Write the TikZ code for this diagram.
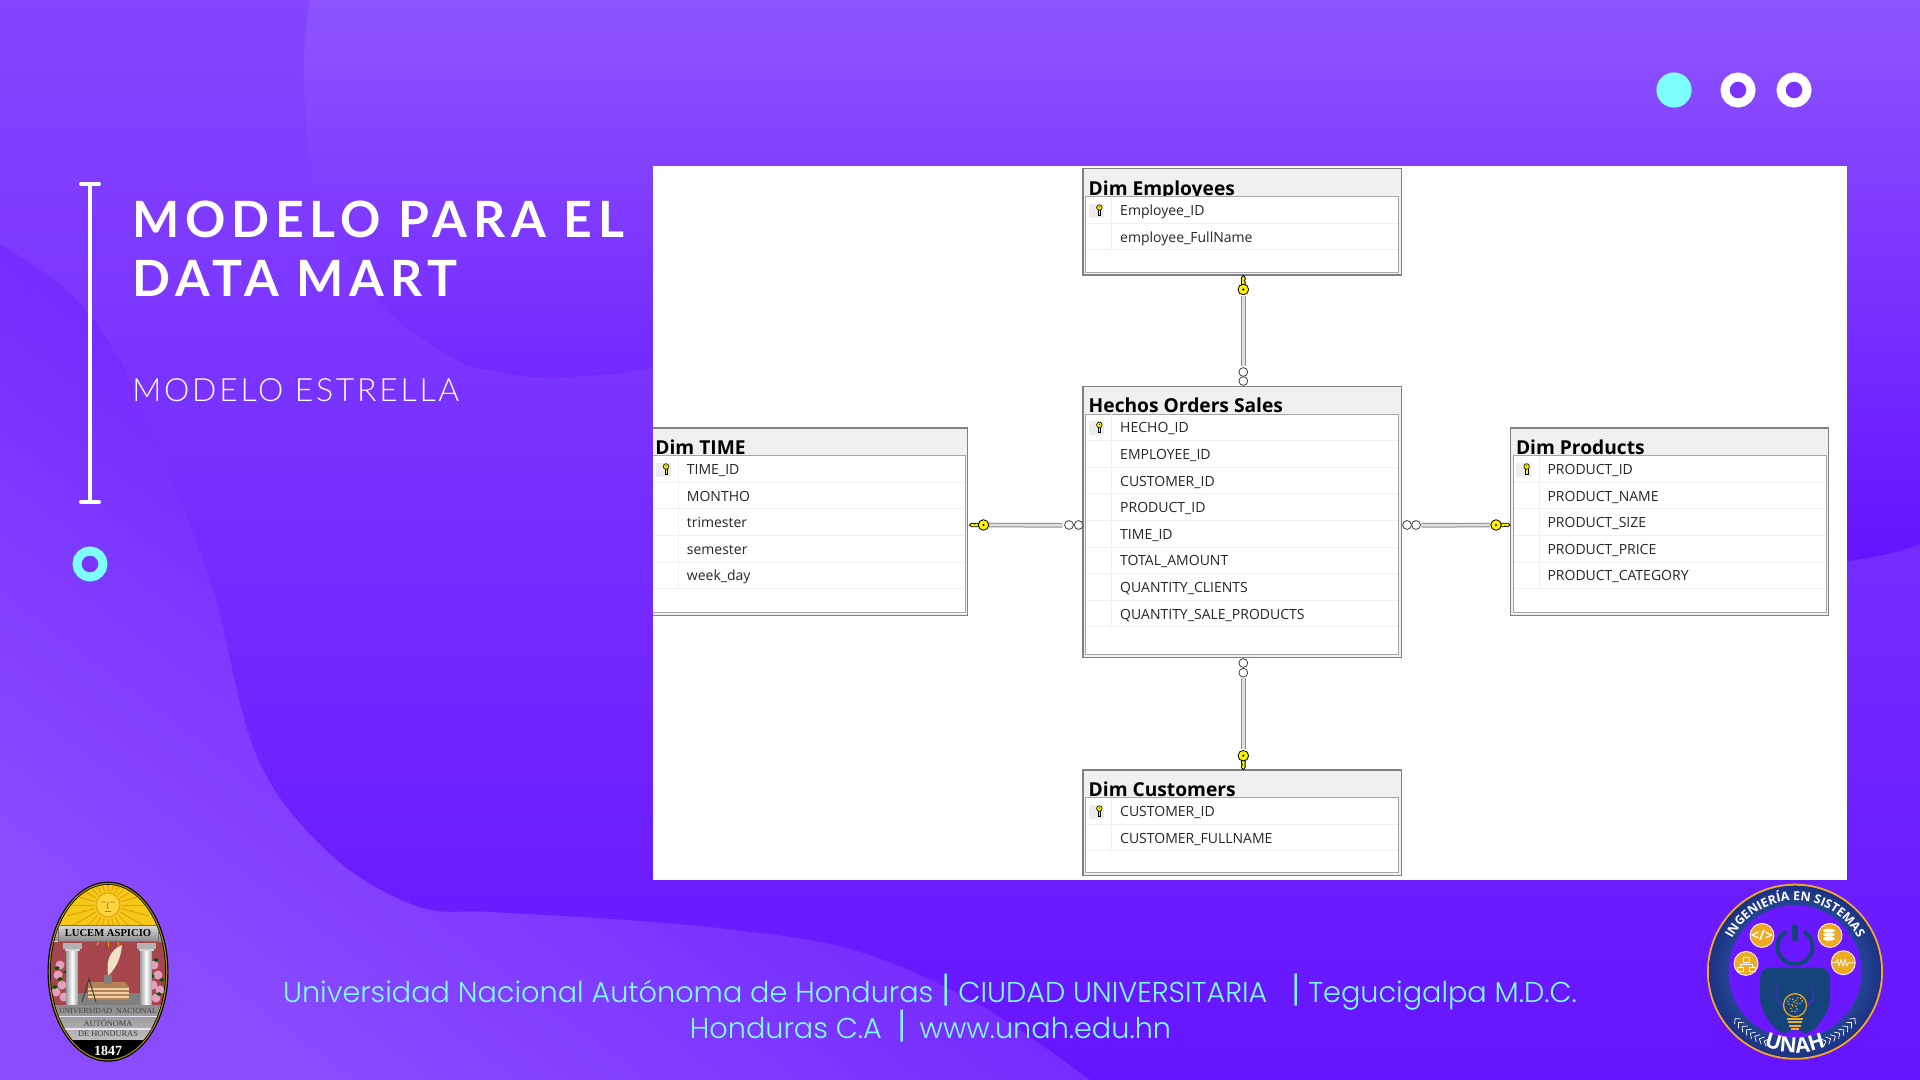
\documentclass[tikz,border=0pt]{standalone}
\usepackage{fontspec}
\usetikzlibrary{decorations.text}
\newfontfamily\titlefont[LetterSpace=11.5]{Lato}
\newfontfamily\subfont[LetterSpace=8.5]{Lato Light}
\newfontfamily\footfont{Poppins Light}
\newfontfamily\tablefont{Open Sans}
\newfontfamily\sealfont{Liberation Serif}
\definecolor{markcyan}{HTML}{7DFFFF}
\definecolor{navyman}{HTML}{14447A}
\definecolor{badgegold}{HTML}{EEAA22}
\definecolor{bgviolet}{HTML}{6A18FF}
\definecolor{baseTop}{HTML}{8445FF}
\definecolor{baseLow}{HTML}{6614FF}
\definecolor{blobTop}{HTML}{8E54FF}
\definecolor{blobMid}{HTML}{7B34FF}
\definecolor{blobLow}{HTML}{6410FF}
\definecolor{waveDark}{HTML}{620CFF}
\definecolor{waveLight}{HTML}{8A4CFF}
\definecolor{sealRed}{HTML}{A5464D}
\definecolor{sealSky}{HTML}{F6C818}
\definecolor{sealRay}{HTML}{E4A00F}
\definecolor{sealSun}{HTML}{FAD63C}
\definecolor{sealFace}{HTML}{B4780F}
\definecolor{sealPink}{HTML}{E1A0BE}
\definecolor{sealBook}{HTML}{B48255}
\definecolor{sealPage}{HTML}{EED2A5}
\definecolor{sealFeather}{HTML}{F0E1C3}
\definecolor{sealBand}{HTML}{EBE1F5}
\definecolor{sealGold}{HTML}{A08A10}
\definecolor{ringLight}{HTML}{3C87CD}
\definecolor{ringDark}{HTML}{1C3282}
\tikzset{
	tablebox/.style={draw=black!50,fill=black!6,line width=.6pt,anchor=north west,inner sep=0pt,minimum width=159.1pt},
	tabletitle/.style={anchor=base west,inner sep=0pt,font=\tablefont\bfseries\fontsize{9.6}{12}\selectfont},
	rowtext/.style={anchor=base west,inner sep=0pt,text=black!85,font=\tablefont\fontsize{7}{9}\selectfont},
	reljoin/.style={draw=black!45,double=black!12,line width=.5pt,double distance=1.35pt,shorten <=10pt,shorten >=10pt},
	ringmark/.style={circle,draw=black!75,fill=white,line width=.4pt,inner sep=0pt,minimum size=4.4pt},
	fulldot/.style={circle,fill=markcyan,inner sep=0pt,minimum size=17.6pt},
	holedot/.style={circle,draw=white,fill=blobMid,line width=4.5pt,inner sep=0pt,minimum size=13pt},
	badgedot/.style={circle,draw=white,fill=badgegold,line width=.4pt,inner sep=0pt,minimum size=12pt},
	sealtext/.style={inner sep=0pt,text=black!75,font=\sealfont\fontsize{4.2}{5}\selectfont},
	foottext/.style={anchor=base,inner sep=0pt,text=markcyan,font=\footfont\fontsize{14.35}{18}\selectfont},
	bigkey/.pic={
		\draw[black,fill=yellow,line width=.4pt] (4,-1.8) -- (12,-1.8) -- (14,0) -- (12,1.8) -- (10,1.8) -- (9,.9) -- (8,1.8) -- (4,1.8) -- cycle;
		\draw[black,fill=yellow,line width=.4pt] (0,0) circle (5.3);
		\fill[black] (0,0) circle (1.2);
	},
	smallkey/.pic={
		\draw[black,fill=yellow,line width=.3pt] (-1.2,0) rectangle (1.2,6);
		\draw[black,fill=yellow,line width=.3pt] (0,-1.5) circle (2.8);
		\fill[black] (0,-2) circle (.6);
	},
}
\newcommand{\footbar}{{\fontsize{18}{18}\selectfont|}}
% name, left, top, height, title, rows
\newcommand{\dbtable}[6]{
	\node[tablebox,minimum height=#4*.5pt-.6pt] (#1) at (#2,#3) {};
	\node[tabletitle] (#1-title) at (#2+6,#3+26.8) {#5};
	\draw[black!35,fill=white,line width=.5pt] (#2+3.4,#3+28.4) rectangle (#2+316.4,#3+#4-3.3);
	\foreach \r [count=\i] in {#6} {
		\pgfmathsetmacro{\rowtop}{#3+28.4+(\i-1)*26.6}
		\draw[black!6,line width=.5pt] (#2+3.9,\rowtop+26.6) -- (#2+315.9,\rowtop+26.6);
		\draw[black!6,line width=.5pt] (#2+29.4,\rowtop) -- (#2+29.4,\rowtop+26.6);
		\node[rowtext] (#1-row\i) at (#2+37.5,\rowtop+18.8) {\r};
	}
	\fill[black!7] (#2+6.7,#3+35.7) rectangle (#2+21.7,#3+49.7);
	\pic at (#2+17,#3+40.7) {smallkey};
}
\begin{document}
\begin{tikzpicture}[x=.5pt,y=-.5pt]
	\useasboundingbox (0,0) rectangle (1920,1080);
	\shade[top color=baseTop,bottom color=baseLow] (0,0) rectangle (1920,1080);
	\shade[top color=blobTop,middle color=blobMid,bottom color=blobLow] plot[smooth,tension=.6] coordinates{(309,0) (304,90) (321,207) (380,303) (453,358) (500,372) (539,377) (600,375) (653,368) (800,345) (1000,400) (1300,500) (1650,570) (1846,561) (1920,544)} -- (1920,0) -- cycle;
	\shade[top color=waveDark,bottom color=waveLight,shading angle=-37] plot[smooth,tension=.6] coordinates{(0,244) (73,296) (122,365) (159,448) (213,590) (257,757) (330,854) (416,906) (490,912) (612,919) (735,930) (857,951) (980,1005) (1090,1080)} -- (0,1080) -- cycle;

	\draw[white,line width=2pt] (90,184) -- (90,502);
	\draw[white,line width=2pt,line cap=round] (81,184) -- (99,184) (81,502) -- (99,502);
	\node[holedot,draw=markcyan] (dotLeft) at (90,564) {};
	\node[fulldot] (dotA) at (1674,90) {};
	\node[holedot] (dotB) at (1738,90) {};
	\node[holedot] (dotC) at (1794,90) {};

	\node[anchor=base west,inner sep=0pt,text=white,font=\titlefont\bfseries\fontsize{25}{30}\selectfont] (titleA) at (132,237.5) {MODELO PARA EL};
	\node[anchor=base west,inner sep=0pt,text=white,font=\titlefont\bfseries\fontsize{25}{30}\selectfont] (titleB) at (132,296.5) {DATA MART};
	\node[anchor=base west,inner sep=0pt,text=white,font=\subfont\fontsize{16}{18}\selectfont] (subTitle) at (132,401.7) {MODELO ESTRELLA};

	\fill[white] (653,166.5) rectangle (1846.7,880);
	\begin{scope}
		\clip (653,166.5) rectangle (1846.7,880);
		\dbtable{dimEmployees}{1082.3}{168.3}{107.4}{Dim Employees}{Employee\_ID,employee\_FullName}
		\dbtable{hechosSales}{1082.3}{385.7}{272.3}{Hechos Orders Sales}{HECHO\_ID,EMPLOYEE\_ID,CUSTOMER\_ID,PRODUCT\_ID,TIME\_ID,TOTAL\_AMOUNT,QUANTITY\_CLIENTS,QUANTITY\_SALE\_PRODUCTS}
		\dbtable{dimTime}{649}{427.3}{188.7}{Dim TIME}{TIME\_ID,MONTHO,trimester,semester,week\_day}
		\dbtable{dimProducts}{1509.6}{427.3}{188.7}{Dim Products}{PRODUCT\_ID,PRODUCT\_NAME,PRODUCT\_SIZE,PRODUCT\_PRICE,PRODUCT\_CATEGORY}
		\dbtable{dimCustomers}{1082.3}{769.3}{106.7}{Dim Customers}{CUSTOMER\_ID,CUSTOMER\_FULLNAME}
	\end{scope}

	\draw[reljoin] ([xshift=.6pt]dimEmployees.south) -- ([xshift=.6pt]hechosSales.north);
	\draw[reljoin] ([xshift=.6pt]dimCustomers.north) -- ([xshift=.6pt]hechosSales.south);
	\draw[reljoin] ([yshift=-1.7pt]dimTime.east) -- ([yshift=-1.7pt]hechosSales.west);
	\draw[reljoin] ([yshift=-1.7pt]dimProducts.west) -- ([yshift=-1.7pt]hechosSales.east);
	\foreach \cx/\cy [count=\i] in {1243.3/381,1243.3/372,1243.3/663,1243.3/672.7,1078.6/525,1069/525,1407/525,1416/525}
		\node[ringmark] (ring\i) at (\cx,\cy) {};
	\pic[rotate=90] at (1243.3,289.5) {bigkey};
	\pic[rotate=-90] at (1243.3,755.7) {bigkey};
	\pic[rotate=180] at (983.5,525) {bigkey};
	\pic at (1496,525) {bigkey};

	\node[foottext] (footA) at (930,1002.7) {Universidad Nacional Autónoma de Honduras \footbar\ CIUDAD UNIVERSITARIA \ \ \footbar\ Tegucigalpa M.D.C.};
	\node[foottext] (footB) at (930.5,1038) {Honduras C.A \ \footbar \ \,www.unah.edu.hn};

	% left seal
	\fill[black] (108,971.7) ellipse (60.5 and 90);
	\fill[sealGold] (108,971.7) ellipse (59.3 and 88.8);
	\fill[black] (108,971.7) ellipse (58 and 87.5);
	\begin{scope}
		\clip (108,971.7) ellipse (57.2 and 86.7);
		\fill[sealRed] (40,925) rectangle (176,1010);
		\fill[sealSky] (40,880) rectangle (176,926);
		\begin{scope}[shift={(108,905)},y=.5pt]
			\foreach \a in {0,15,...,345}
				\draw[sealRay,line width=.5pt] (\a:14) -- (\a:42);
			\draw[sealRay,fill=sealSun,line width=.5pt] (0,0) circle (12);
			\draw[sealFace,line width=.4pt] (-7,3) -- (-2,3) (2,3) -- (7,3) (0,3) -- (-1,-3) -- (1,-3) (-3,-6.5) -- (3,-6.5);
		\end{scope}
		% flowers
		\foreach \fx/\fy in {58/975,62/985,56/992,64/997,60/965,154/965,158/975,153/985,160/990,156/998}
			\fill[sealPink] (\fx,\fy) circle (4.5);
		\foreach \fx/\fy in {57/968,60/979,55/987,66/972,156/960,162/980,152/976,159/994}
			\fill[green!35!black] (\fx-3,\fy) -- (\fx,\fy-2) -- (\fx+3,\fy) -- (\fx,\fy+2) -- cycle;
		% floor and books
		\fill[black!50] (78,993) -- (140,993) -- (148,1006) -- (70,1006) -- cycle;
		\fill[sealBook] (88,982) -- (125,982) -- (129,987) -- (129,1000) -- (88,1000) -- cycle;
		\foreach \by in {988,992,996}
			\fill[sealPage] (88,\by) rectangle (129,\by+1.5);
		\fill[black!50] (104,975) rectangle (112,984);
		\fill[sealFeather] (108,975) .. controls (106,960) and (110,950) .. (122,945) .. controls (121,958) and (116,968) .. (109,975) -- cycle;
		\draw[black!75,line width=.5pt] (82,1002) -- (89,979) -- (96,1002);
		% columns
		\foreach \colx in {66.7,140.7} {
			\shade[left color=black!35,right color=black!35,middle color=white] (\colx,948) rectangle (\colx+10.8,1004);
			\fill[black!30] (\colx-4,943) rectangle (\colx+14.8,949);
			\fill[black!18] (\colx-2,949) rectangle (\colx+12.8,951);
		}
		\shade[top color=black!15,bottom color=black!45] (40,925.7) rectangle (176,941);
		\draw[black!55,line width=.3pt] (58,925.7) rectangle (158,941);
		\fill[black!15] (40,941) rectangle (58,942);
		\shade[top color=black!45,bottom color=black!25] (40,1005) rectangle (176,1040);
		\foreach \sy in {1015.5,1028}
			\fill[sealBand] (40,\sy) rectangle (176,\sy+1.8);
		\fill[black] (40,1040) rectangle (176,1062);
	\end{scope}
	\node[inner sep=0pt,text=black,font=\sealfont\bfseries\fontsize{5.3}{6}\selectfont] (sealMotto) at (108,933) {LUCEM ASPICIO};
	\node[sealtext,font=\sealfont\fontsize{3.9}{5}\selectfont] (sealLineA) at (108,1011) {UNIVERSIDAD \ NACIONAL};
	\node[sealtext] (sealLineB) at (108,1022.5) {AUTÓNOMA};
	\node[sealtext] (sealLineC) at (108,1034) {DE HONDURAS};
	\node[inner sep=0pt,text=white,font=\sealfont\bfseries\fontsize{7}{8}\selectfont] (sealYear) at (108,1050.5) {1847};

	% right badge
	\begin{scope}[shift={(1795,971.7)}]
		\draw[badgegold,line width=1pt] (0,0) circle (87);
		\shade[inner color=ringLight,outer color=ringDark] (0,0) circle (86);
		\fill[bgviolet] (0,0) circle (66.5);
		\begin{scope}[y=.5pt]
			\path[decorate,decoration={text along path,text align=center,text={|\tablefont\bfseries\fontsize{6.2}{8}\selectfont\color{white}|INGENIERÍA EN SISTEMAS}}] (175:71) arc (175:5:71);
			\path[decorate,decoration={text along path,text align=center,text={|\tablefont\bfseries\fontsize{10.5}{12}\selectfont\color{white}|UNAH}}] (240:81) arc (240:300:81);
			\foreach \a in {218,222,...,246} {
				\draw[white,line width=.35pt] (\a:76) -- (\a+3:80) (\a:76) -- (\a+3:72);
				\draw[white,line width=.35pt] (540-\a:76) -- (537-\a:80) (540-\a:76) -- (537-\a:72);
			}
			\draw[navyman,line width=2pt] (0,25) ++(60:17.5) arc (60:-240:17.5);
		\end{scope}
		\draw[navyman,line width=2.6pt,line cap=round] (0,-45) -- (0,-33);
		% person with bulb
		\fill[navyman,rounded corners=5pt] (-35,-4) -- (35,-4) -- (35,36) -- (17,62) -- (3,62) -- (0,52) -- (-3,62) -- (-17,62) -- (-35,36) -- cycle;
		\draw[bgviolet,line width=.4pt] (-18,13) -- (-18,28) -- (-11,35) (18,13) -- (18,28) -- (11,35);
		\draw[badgegold,fill=navyman,line width=.6pt] (0,33.5) circle (11.5);
		\foreach \gx/\gy in {-4/30,4/29,-1/37}
			\draw[badgegold,line width=.6pt,densely dotted] (\gx,\gy) circle (3.2);
		\foreach \by/\bw in {46/8,49.5/7,53/6,56.5/4}
			\fill[badgegold] (-\bw,\by) rectangle (\bw,\by+2.2);
		% small icons
		\node[badgedot] (iconCode) at (-33,-36.3) {};
		\node[inner sep=0pt,text=white,font=\tablefont\bfseries\fontsize{7}{8}\selectfont] (iconCodeText) at (iconCode) {</>};
		\node[badgedot] (iconData) at (35,-36.3) {};
		\foreach \dy in {-41,-37,-33}
			\fill[white] (35-1,\dy) ellipse (6 and 2);
		\node[badgedot] (iconFlow) at (-49,-8.3) {};
		\draw[white,line width=.35pt] (-49,-9) -- (-49,-7) (-55,-4) -- (-55,-7) -- (-43,-7) -- (-43,-4) (-52,-14) rectangle (-46,-9) (-58,-4) rectangle (-52,-.5) (-46,-4) rectangle (-40,-.5);
		\node[badgedot] (iconWave) at (48.3,-9) {};
		\draw[white,line width=.4pt] (37,-9) -- (41,-9) -- (42.5,-12) -- (44,-6) -- (46,-12) -- (48,-6) -- (50,-12) -- (52,-6) -- (53.5,-9) -- (60,-9);
	\end{scope}
\end{tikzpicture}
\end{document}
